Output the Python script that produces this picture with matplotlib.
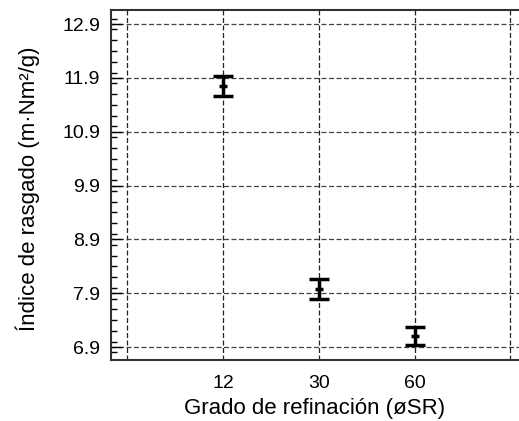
import numpy as np
import matplotlib
matplotlib.use("Agg")
import matplotlib.pyplot as plt
from matplotlib.ticker import MultipleLocator

plt.rcParams['font.family'] = ['Liberation Sans', 'DejaVu Sans']

grados = ['12', '30', '60']
indice = [11.75, 7.98, 7.11]
error = [0.18, 0.18, 0.17]
yticks = [6.9, 7.9, 8.9, 9.9, 10.9, 11.9, 12.9]

fig = plt.figure(figsize=(5.19, 4.21), dpi=100)
ax = fig.add_axes([0.214, 0.145, 0.786, 0.831])

x = np.arange(1, len(grados) + 1)
ax.errorbar(x, indice, yerr=error, fmt='_', color='black', ms=6, mew=2.5,
            elinewidth=2.5, capsize=7, capthick=2.5, zorder=3)

ax.set_xlim(-0.17, 4.09)
ax.set_ylim(6.66, 13.16)

ax.set_xticks(x)
ax.set_xticklabels(grados)
ax.set_xticks([0, 4], minor=True)
ax.set_yticks(yticks)
ax.set_yticklabels(['%.1f' % v for v in yticks])
ax.yaxis.set_minor_locator(MultipleLocator(0.2))

ax.grid(True, which='major', axis='y', color='#444444', ls=(0, (4, 2)), lw=0.9)
ax.grid(True, which='both', axis='x', color='#222222', ls=(0, (4, 2)), lw=0.9)

ax.tick_params(axis='y', which='major', direction='in', length=8, width=1,
               labelsize=14, pad=8, right=False)
ax.tick_params(axis='y', which='minor', direction='in', length=4, width=1)
ax.tick_params(axis='x', which='both', direction='in', length=0, labelsize=14, pad=11)

for s in ['left', 'bottom', 'top']:
    ax.spines[s].set_color('#333333')
    ax.spines[s].set_linewidth(1.5)
ax.spines['right'].set_visible(False)

ax.set_xlabel('Grado de refinación (øSR)', fontsize=16)
ax.set_ylabel('Índice de rasgado (m·Nm²/g)', fontsize=16)
ax.xaxis.set_label_coords(0.5, -0.11)
ax.yaxis.set_label_coords(-0.175, 0.49)

plt.savefig('out.png', dpi=100)
